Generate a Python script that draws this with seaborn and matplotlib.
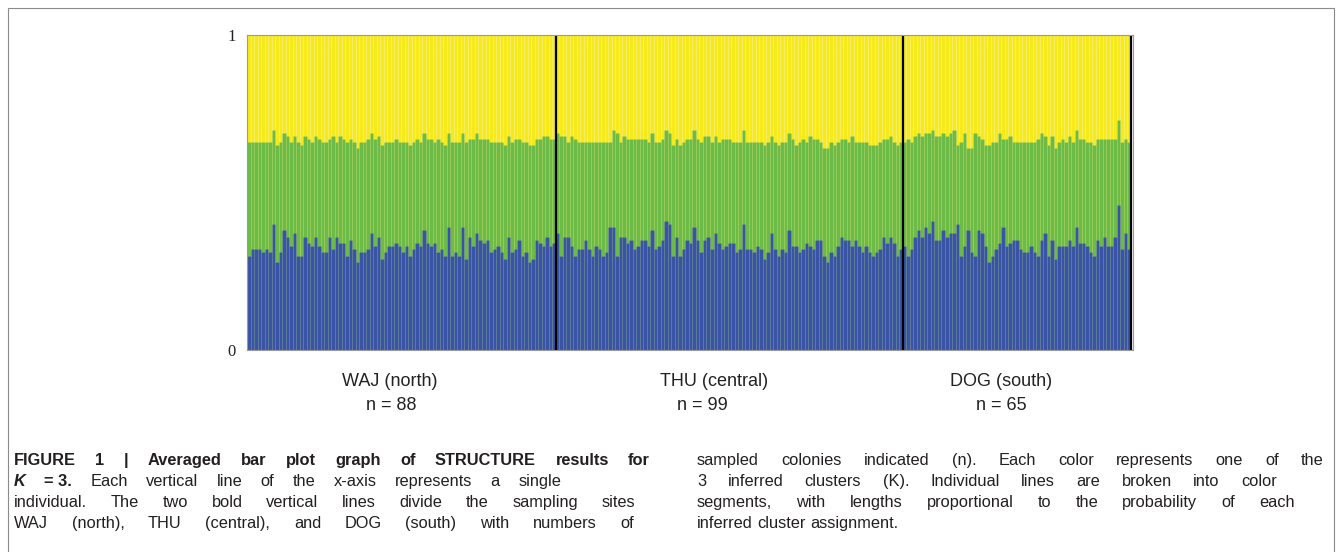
import numpy as np
import pandas as pd
import matplotlib
matplotlib.use("Agg")
import matplotlib.pyplot as plt
from matplotlib.patches import Rectangle
import seaborn as sns

# site names and sample sizes
sites = ["WAJ (north)", "THU (central)", "DOG (south)"]
site_n = [88, 99, 65]

# cumulative boundaries (individuals in plot order)
# blue_top = q(cluster 1); green_top = q(cluster 1) + q(cluster 2); the rest is yellow
blue_top = [
    # WAJ
    0.30, 0.32, 0.32, 0.32, 0.31, 0.32, 0.31, 0.40, 0.28, 0.31, 0.38, 0.36, 0.33, 0.37, 0.30, 0.30,
    0.36, 0.34, 0.33, 0.36, 0.33, 0.31, 0.31, 0.36, 0.32, 0.36, 0.34,
    0.34, 0.30, 0.35, 0.32, 0.28, 0.31, 0.31, 0.32, 0.37, 0.33, 0.36, 0.29, 0.31, 0.33, 0.33, 0.34,
    0.33, 0.31, 0.33, 0.30, 0.32, 0.34, 0.33, 0.38, 0.34, 0.33, 0.34, 0.31,
    0.32, 0.30, 0.39, 0.30, 0.31, 0.30, 0.39, 0.29, 0.36, 0.33, 0.37, 0.35, 0.34, 0.35, 0.31, 0.32,
    0.33, 0.31, 0.29, 0.36, 0.31, 0.32, 0.35, 0.30, 0.31, 0.28, 0.29, 0.35,
    0.34, 0.33, 0.36, 0.33, 0.34,
    # THU
    0.37, 0.30, 0.36, 0.36, 0.33, 0.30, 0.32, 0.32, 0.35, 0.32, 0.30, 0.33, 0.32, 0.30, 0.31, 0.39,
    0.39, 0.30, 0.36, 0.36, 0.34, 0.35,
    0.32, 0.33, 0.35, 0.35, 0.33, 0.38, 0.32, 0.33, 0.35, 0.41, 0.40, 0.30, 0.36, 0.30, 0.32, 0.35,
    0.34, 0.39, 0.35, 0.31, 0.35, 0.36, 0.32, 0.37, 0.34, 0.32, 0.33, 0.34,
    0.34, 0.31, 0.32, 0.40, 0.32, 0.32, 0.31, 0.33, 0.32, 0.29, 0.31, 0.37, 0.32, 0.30, 0.32, 0.31,
    0.38, 0.33, 0.33, 0.31, 0.32, 0.34, 0.33, 0.32, 0.35, 0.35, 0.30, 0.28,
    0.31, 0.30, 0.33, 0.36, 0.35, 0.35, 0.33, 0.35, 0.33, 0.31, 0.33, 0.31, 0.30, 0.31, 0.32, 0.36,
    0.34, 0.36, 0.34, 0.30, 0.32,
    # DOG
    0.33, 0.30, 0.32, 0.36, 0.38, 0.36, 0.39,
    0.37, 0.41, 0.35, 0.35, 0.38, 0.36, 0.37, 0.37, 0.40, 0.30, 0.33, 0.38, 0.31, 0.30, 0.38, 0.37,
    0.33, 0.28, 0.30, 0.32, 0.34, 0.39, 0.33, 0.34, 0.35, 0.35, 0.32,
    0.31, 0.31, 0.33, 0.31, 0.30, 0.35, 0.37, 0.30, 0.35, 0.29, 0.33, 0.33, 0.33, 0.35, 0.33, 0.39,
    0.34, 0.34, 0.33, 0.31, 0.30, 0.35, 0.33, 0.36, 0.33, 0.33, 0.36, 0.46, 0.32, 0.37, 0.32,
]
green_top = [
    # WAJ
    0.66, 0.66, 0.66, 0.66, 0.66, 0.66, 0.66, 0.70, 0.65, 0.66, 0.69, 0.68, 0.66, 0.68, 0.66, 0.65,
    0.68, 0.67, 0.66, 0.68, 0.67, 0.66, 0.66, 0.67, 0.68, 0.66, 0.68,
    0.67, 0.66, 0.67, 0.66, 0.64, 0.66, 0.66, 0.67, 0.69, 0.67, 0.68, 0.65, 0.66, 0.66, 0.66, 0.67,
    0.66, 0.66, 0.66, 0.65, 0.66, 0.67, 0.66, 0.69, 0.67, 0.67, 0.66, 0.67,
    0.66, 0.65, 0.69, 0.66, 0.66, 0.66, 0.69, 0.66, 0.67, 0.67, 0.69, 0.67, 0.67, 0.67, 0.66, 0.66,
    0.66, 0.66, 0.65, 0.68, 0.66, 0.67, 0.67, 0.66, 0.66, 0.65, 0.65, 0.67,
    0.67, 0.68, 0.68, 0.67, 0.67,
    # THU
    0.69, 0.68, 0.68, 0.66, 0.68, 0.67, 0.66, 0.66, 0.66, 0.66, 0.66, 0.66, 0.66, 0.66, 0.66, 0.66,
    0.70, 0.69, 0.66, 0.68, 0.67, 0.67,
    0.67, 0.67, 0.67, 0.67, 0.66, 0.69, 0.66, 0.66, 0.67, 0.70, 0.69, 0.65, 0.67, 0.65, 0.66, 0.67,
    0.67, 0.70, 0.67, 0.66, 0.68, 0.68, 0.66, 0.68, 0.66, 0.67, 0.67, 0.67,
    0.66, 0.66, 0.66, 0.70, 0.66, 0.66, 0.66, 0.66, 0.66, 0.65, 0.66, 0.68, 0.66, 0.65, 0.66, 0.66,
    0.69, 0.67, 0.65, 0.66, 0.67, 0.66, 0.68, 0.67, 0.67, 0.66, 0.64, 0.64,
    0.66, 0.65, 0.66, 0.67, 0.67, 0.66, 0.68, 0.66, 0.66, 0.66, 0.66, 0.65, 0.65, 0.65, 0.66, 0.67,
    0.67, 0.68, 0.66, 0.65, 0.66,
    # DOG
    0.66, 0.67, 0.66, 0.68, 0.69, 0.68, 0.69,
    0.69, 0.70, 0.68, 0.68, 0.69, 0.68, 0.69, 0.70, 0.65, 0.66, 0.69, 0.64, 0.64, 0.69, 0.68, 0.67,
    0.65, 0.65, 0.66, 0.66, 0.69, 0.67, 0.67, 0.68, 0.66, 0.66, 0.66,
    0.66, 0.66, 0.66, 0.66, 0.67, 0.69, 0.68, 0.65, 0.68, 0.64, 0.66, 0.67, 0.66, 0.68, 0.66, 0.70,
    0.67, 0.67, 0.66, 0.66, 0.65, 0.67, 0.67, 0.67, 0.67, 0.67, 0.67, 0.73, 0.66, 0.67, 0.66,
]

yellow_c = "#F6E91C"
green_c = "#6CBB46"
blue_c = "#3A54A5"

n_total = sum(site_n)
df = pd.DataFrame({
    "ind": np.arange(n_total),
    "blue": blue_top[:n_total],
    "green": green_top[:n_total],
    "total": 1.0,
})

W, H = 1342, 552
fig = plt.figure(figsize=(W / 100, H / 100), dpi=100)
sns.set_style("white")
plt.rcParams["font.family"] = ["Liberation Sans", "DejaVu Sans"]

ax = fig.add_axes([247 / W, 1 - 350 / H, 886 / W, 315 / H])

# overlapping layers: full bar (yellow), then green boundary, then blue
for col, c in [("total", yellow_c), ("green", green_c), ("blue", blue_c)]:
    sns.barplot(data=df, x="ind", y=col, color=c, saturation=1, width=1.0,
                errorbar=None, edgecolor=(1, 1, 1, 0.10), linewidth=0.4, ax=ax)

# bold separators between sampling sites
for b in np.cumsum(site_n):
    ax.axvline(b - 0.5, color="black", lw=1.6)

ax.set_xlim(-0.5, n_total + 0.1)
ax.set_ylim(0, 1)
ax.set_xticks([])
ax.set_xlabel("")
ax.set_ylabel("")
ax.set_yticks([0, 1])
ax.set_yticklabels(["0", "1"], family="Liberation Serif", fontsize=12, color="#222222")
ax.tick_params(axis="y", length=0, pad=8)
for s in ax.spines.values():
    s.set_color("#9a9a9a")
    s.set_linewidth(0.8)

# site labels below the bars
label_x = [390, 714, 1001]
n_x = [391, 702, 1001]
for name, n, lx, nx in zip(sites, site_n, label_x, n_x):
    fig.text(lx / W, 1 - 382 / H, name, ha="center", va="center", fontsize=13, color="#222222")
    fig.text(nx / W, 1 - 405 / H, f"n = {n}", ha="center", va="center", fontsize=13, color="#222222")

# thin frame around the figure
fig.patches.append(Rectangle((8 / W, -0.05), (1334 - 8) / W, 1.05 - 8 / H, transform=fig.transFigure,
                             fill=False, edgecolor="#8a8a8a", lw=0.8))

# caption, justified line by line
renderer = fig.canvas.get_renderer()
cap_fs = 11.8
cap_col = "#231f20"


def put_line(tokens, x0, x1, y, justify=True):
    objs = []
    for word, kw in tokens:
        t = fig.text(0, 1 - y / H, word, fontsize=cap_fs, color=cap_col, va="baseline", **kw)
        objs.append(t)
    widths = [t.get_window_extent(renderer).width for t in objs]
    if justify and len(objs) > 1:
        gap = (x1 - x0 - sum(widths)) / (len(objs) - 1)
    else:
        gap = 0.28 * cap_fs * 100 / 72
    x = x0
    for t, w in zip(objs, widths):
        t.set_x(x / W)
        x += w + gap


def plain(s, **kw):
    return [(w, kw) for w in s.split()]


bold = dict(fontweight="bold")
rows = [465, 486, 507, 528]  # baselines
put_line(plain("FIGURE 1 | Averaged bar plot graph of STRUCTURE results for", **bold), 14, 650, rows[0])
put_line([("K", dict(fontweight="bold", style="italic")), ("= 3.", bold)]
         + plain("Each vertical line of the") + [("x-axis", {})] + plain("represents a single"),
         14, 561, rows[1])
put_line(plain("individual. The two bold vertical lines divide the sampling sites"), 14, 635, rows[2])
put_line(plain("WAJ (north), THU (central), and DOG (south) with numbers of"), 14, 634, rows[3])
put_line(plain("sampled colonies indicated (n). Each color represents one of the"), 697, 1324, rows[0])
put_line(plain("3 inferred clusters (K). Individual lines are broken into color"), 697, 1277, rows[1])
put_line(plain("segments, with lengths proportional to the probability of each"), 697, 1295, rows[2])
put_line(plain("inferred cluster assignment."), 697, 1000, rows[3], justify=False)

fig.savefig("out.png", dpi=100)
